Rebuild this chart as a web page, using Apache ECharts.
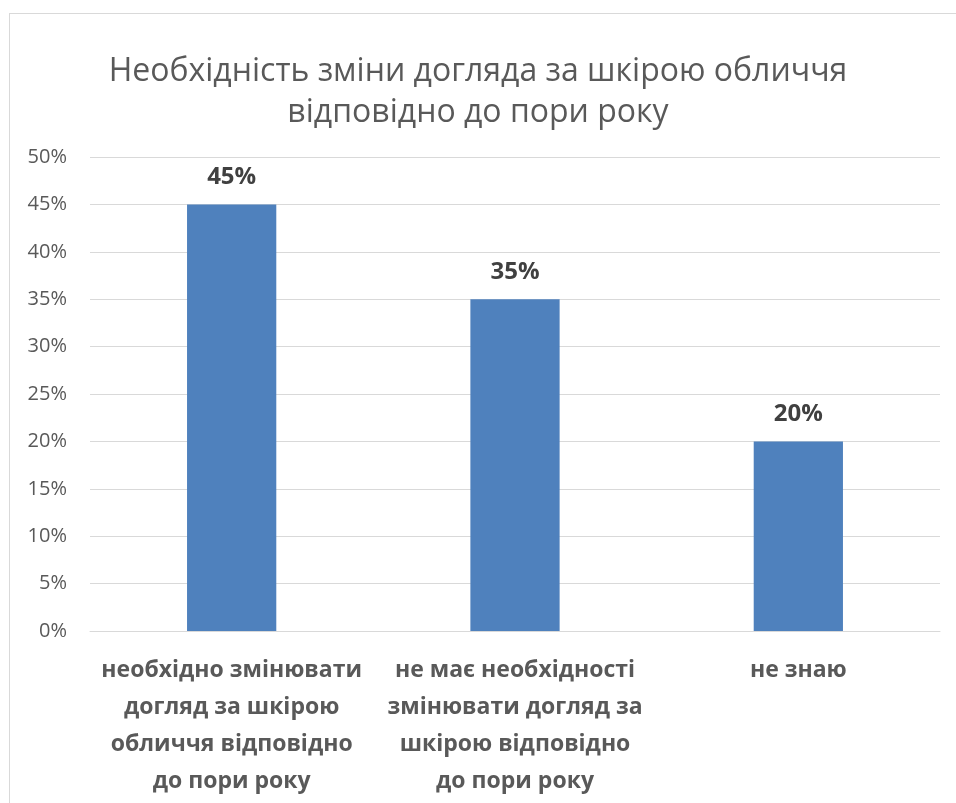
<!DOCTYPE html>
<html>
<head>
<meta charset="utf-8">
<script src="https://cdn.jsdelivr.net/npm/echarts@6/dist/echarts.min.js"></script>
<style>
  html, body { margin: 0; padding: 0; background: #fff; }
  #frame { position: absolute; left: 9px; top: 13px; width: 960px; height: 800px;
           border-left: 1px solid #d9d9d9; border-top: 1px solid #d9d9d9; }
  #chart { position: absolute; left: 0; top: 0; width: 956px; height: 803px; }
</style>
</head>
<body>
<div id="frame"></div>
<div id="chart"></div>
<script>
// Chart title and survey answers
const titleText = 'Необхідність зміни догляда за шкірою обличчя\nвідповідно до пори року';
const categories = [
  'необхідно змінювати\nдогляд за шкірою\nобличчя відповідно\nдо пори року',
  'не має необхідності\nзмінювати догляд за\nшкірою відповідно\nдо пори року',
  'не знаю'
];
const shares = [45, 35, 20];           // percent of respondents
const yTicks = { min: 0, max: 50, step: 5 };

const chart = echarts.init(document.getElementById('chart'), null, { renderer: 'canvas' });
const font = '"Open Sans", "Noto Sans", sans-serif';

chart.setOption({
  animation: false,
  title: {
    text: titleText,
    left: 'center',
    top: 46,
    textStyle: { fontFamily: font, fontSize: 32, fontWeight: 'normal', color: '#595959', lineHeight: 41 }
  },
  grid: { left: 90, right: 16, top: 157, bottom: 172 },
  xAxis: {
    type: 'category',
    data: categories,
    axisLine: { show: true, lineStyle: { color: '#d9d9d9', width: 1 } },
    axisTick: { show: false },
    axisLabel: {
      interval: 0, margin: 21,
      fontFamily: font, fontSize: 23, fontWeight: 'bold', color: '#595959', lineHeight: 37
    }
  },
  yAxis: {
    type: 'value',
    min: yTicks.min, max: yTicks.max, interval: yTicks.step,
    axisLine: { show: false },
    axisTick: { show: false },
    splitLine: { lineStyle: { color: '#d9d9d9', width: 1 } },
    axisLabel: {
      formatter: '{value}%', margin: 23,
      fontFamily: font, fontSize: 20, color: '#595959'
    }
  },
  series: [{
    type: 'bar',
    data: shares,
    barWidth: '31.5%',
    itemStyle: { color: '#4f81bd' },
    label: {
      show: true, position: 'top', distance: 15,
      formatter: '{c}%',
      fontFamily: font, fontSize: 24, fontWeight: 'bold', color: '#404040'
    }
  }]
});
</script>
</body>
</html>
